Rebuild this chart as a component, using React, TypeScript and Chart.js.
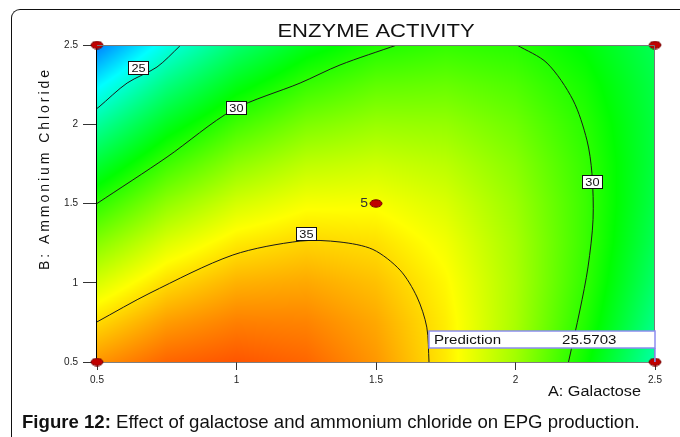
import { useEffect, useRef } from 'react';
import { Chart, registerables } from 'chart.js';

Chart.register(...registerables);

// ---------- text ----------
const chartTitle = 'ENZYME ACTIVITY';
const xAxisTitle = 'A: Galactose';
const yAxisTitle = 'B: Ammonium Chloride';
const captionBold = 'Figure 12:';
const captionRest = ' Effect of galactose and ammonium chloride on EPG production.';

// ---------- ticks ----------
const xTickValues = [0.5, 1, 1.5, 2, 2.5];
const xTickLabels = ['0.5', '1', '1.5', '2', '2.5'];
const yTickValues = [0.5, 1, 1.5, 2, 2.5];
const yTickLabels = ['0.5', '1', '1.5', '2', '2.5'];

const galactoseGrid = [0.5, 0.75, 1, 1.25, 1.5, 1.75, 2, 2.25, 2.5];
const ammoniumGrid = [0.5, 0.75, 1, 1.25, 1.5, 1.75, 2, 2.25, 2.5];
const activityB050 = [36.39, 37.37, 37.69, 37.35, 36.35, 34.68, 32.35, 29.36, 25.71];
const activityB075 = [35.0, 36.25, 36.83, 36.75, 36.01, 34.6, 32.53, 29.8, 26.41];
const activityB100 = [33.47, 34.98, 35.82, 36.01, 35.52, 34.38, 32.57, 30.11, 26.97];
const activityB125 = [31.81, 33.58, 34.68, 35.12, 34.9, 34.02, 32.48, 30.27, 27.4];
const activityB150 = [30.0, 32.03, 33.4, 34.1, 34.14, 33.52, 32.24, 30.29, 27.68];
const activityB175 = [28.05, 30.34, 31.97, 32.94, 33.24, 32.88, 31.86, 30.17, 27.82];
const activityB200 = [25.96, 28.52, 30.4, 31.63, 32.19, 32.1, 31.33, 29.91, 27.82];
const activityB225 = [23.73, 26.55, 28.7, 30.19, 31.01, 31.17, 30.67, 29.51, 27.69];
const activityB250 = [21.37, 24.44, 26.85, 28.6, 29.69, 30.11, 29.87, 28.97, 27.41];
const activityRows = [
  activityB050, activityB075, activityB100, activityB125, activityB150,
  activityB175, activityB200, activityB225, activityB250,
];
const colorScaleMin = 21.4; // blue end
const colorScaleMax = 38.2; // red end
const hueAtMin = 210;
const hueAtMax = 14;

// ---------- contour lines ----------
const contour25Galactose = [0.5, 0.507, 0.608, 0.715, 0.797, 0.8];
const contour25Ammonium = [2.1, 2.109, 2.26, 2.361, 2.494, 2.5];
const contour30aGalactose = [0.5, 0.751, 0.987, 1.228, 1.371, 1.575];
const contour30aAmmonium = [1.5, 1.793, 2.09, 2.26, 2.374, 2.5];
const contour30bGalactose = [2.005, 2.113, 2.206, 2.256, 2.274, 2.278, 2.26, 2.231, 2.19];
const contour30bAmmonium = [2.5, 2.386, 2.153, 1.9, 1.69, 1.4, 1.1, 0.828, 0.5];
const contour35Galactose = [0.5, 0.69, 0.987, 1.228, 1.371, 1.489, 1.586, 1.647, 1.682, 1.69];
const contour35Ammonium = [0.753, 0.935, 1.175, 1.263, 1.257, 1.21, 1.08, 0.91, 0.72, 0.5];

const contourLabelText = ['25', '30', '35', '30'];
const contourLabelGalactose = [0.647, 0.998, 1.249, 2.274];
const contourLabelAmmonium = [2.355, 2.103, 1.308, 1.636];

// ---------- design points ----------
const designGalactose = [0.5, 0.5, 2.5, 2.5, 1.5];
const designAmmonium = [0.5, 2.5, 2.5, 0.5, 1.5];
const centerRunsLabel = '5';

// ---------- prediction ----------
const predictionGalactose = 2.5;
const predictionAmmonium = 0.5;
const predictionLabel = 'Prediction';
const predictionValue = '25.5703';

const FONT = 'Arial, "Liberation Sans", Helvetica, sans-serif';
const STRETCH = 1.16;

function toPoints(xs: number[], ys: number[]) {
  return xs.map((x, i) => ({ x, y: ys[i] }));
}

function locate(grid: number[], v: number) {
  const n = grid.length;
  if (v <= grid[0]) return { i: 0, t: 0 };
  if (v >= grid[n - 1]) return { i: n - 2, t: 1 };
  let i = 0;
  while (i < n - 2 && v > grid[i + 1]) i++;
  return { i, t: (v - grid[i]) / (grid[i + 1] - grid[i]) };
}

function sampleActivity(xv: number, yv: number) {
  const a = locate(galactoseGrid, xv);
  const b = locate(ammoniumGrid, yv);
  const r0 = activityRows[b.i];
  const r1 = activityRows[b.i + 1];
  const v0 = r0[a.i] * (1 - a.t) + r0[a.i + 1] * a.t;
  const v1 = r1[a.i] * (1 - a.t) + r1[a.i + 1] * a.t;
  return v0 * (1 - b.t) + v1 * b.t;
}

function activityColor(v: number): [number, number, number] {
  let f = (v - colorScaleMin) / (colorScaleMax - colorScaleMin);
  f = Math.max(0, Math.min(1, f));
  const h = hueAtMin + f * (hueAtMax - hueAtMin);
  const ch = (n: number) => {
    const k = (n + h / 60) % 6;
    return Math.round(255 * (1 - Math.max(0, Math.min(k, 4 - k, 1))));
  };
  return [ch(5), ch(3), ch(1)];
}

function makeDot() {
  const c = document.createElement('canvas');
  c.width = 14;
  c.height = 9;
  const g = c.getContext('2d')!;
  g.beginPath();
  g.ellipse(7, 4.5, 6, 3.7, 0, 0, Math.PI * 2);
  g.fillStyle = '#c00000';
  g.fill();
  g.lineWidth = 1;
  g.strokeStyle = '#700000';
  g.stroke();
  return c;
}

function stretchText(ctx: CanvasRenderingContext2D, text: string, x: number, y: number, align: CanvasTextAlign) {
  ctx.save();
  ctx.translate(x, y);
  ctx.scale(STRETCH, 1);
  ctx.textAlign = align;
  ctx.fillText(text, 0, 0);
  ctx.restore();
}

const heatmapPlugin = {
  id: 'heatmap',
  beforeDatasetsDraw(chart: any) {
    const { ctx, chartArea: a, scales } = chart;
    const sx = scales.x;
    const sy = scales.y;
    const w = Math.round(a.right - a.left);
    const h = Math.round(a.bottom - a.top);
    const off = document.createElement('canvas');
    off.width = w;
    off.height = h;
    const octx = off.getContext('2d')!;
    const img = octx.createImageData(w, h);
    for (let j = 0; j < h; j++) {
      const yv = sy.getValueForPixel(a.top + j + 0.5);
      for (let i = 0; i < w; i++) {
        const xv = sx.getValueForPixel(a.left + i + 0.5);
        const [r, g, b] = activityColor(sampleActivity(xv, yv));
        const k = (j * w + i) * 4;
        img.data[k] = r;
        img.data[k + 1] = g;
        img.data[k + 2] = b;
        img.data[k + 3] = 255;
      }
    }
    octx.putImageData(img, 0, 0);
    ctx.drawImage(off, a.left, a.top);
  },
};

const decorPlugin = {
  id: 'decor',
  afterDatasetsDraw(chart: any) {
    const { ctx, chartArea: a, scales } = chart;
    const sx = scales.x;
    const sy = scales.y;
    ctx.save();
    // top & right frame
    ctx.strokeStyle = '#777';
    ctx.lineWidth = 1;
    ctx.beginPath();
    ctx.moveTo(a.left, a.top + 0.5);
    ctx.lineTo(a.right - 0.5, a.top + 0.5);
    ctx.lineTo(a.right - 0.5, a.bottom);
    ctx.stroke();

    // contour labels
    ctx.textBaseline = 'middle';
    contourLabelText.forEach((t, i) => {
      const cx = sx.getPixelForValue(contourLabelGalactose[i]);
      const cy = sy.getPixelForValue(contourLabelAmmonium[i]);
      const bw = 20;
      const bh = 13;
      ctx.fillStyle = '#fff';
      ctx.fillRect(cx - bw / 2, cy - bh / 2, bw, bh);
      ctx.strokeStyle = '#111';
      ctx.lineWidth = 1;
      ctx.strokeRect(Math.round(cx - bw / 2) + 0.5, Math.round(cy - bh / 2) + 0.5, bw, bh);
      ctx.fillStyle = '#111';
      ctx.font = `11px ${FONT}`;
      stretchText(ctx, t, cx + 0.5, cy + 1, 'center');
    });

    // centre-point count
    ctx.fillStyle = '#333';
    ctx.font = `12px ${FONT}`;
    stretchText(ctx, centerRunsLabel, sx.getPixelForValue(1.5) - 8, sy.getPixelForValue(1.5), 'right');

    // prediction box
    const px = sx.getPixelForValue(predictionGalactose);
    const py = sy.getPixelForValue(predictionAmmonium);
    const bw = 226;
    const bh = 17;
    const bx = px - bw;
    const by = py - 14 - bh;
    ctx.fillStyle = '#fff';
    ctx.fillRect(bx, by, bw, bh);
    ctx.strokeStyle = '#8c8cf0';
    ctx.lineWidth = 1.5;
    ctx.strokeRect(bx, by, bw, bh);
    ctx.beginPath();
    ctx.moveTo(px, by + bh);
    ctx.lineTo(px, py);
    ctx.stroke();
    ctx.fillStyle = '#111';
    ctx.font = `13px ${FONT}`;
    stretchText(ctx, predictionLabel, bx + 5, by + bh / 2 + 1, 'left');
    stretchText(ctx, predictionValue, bx + 133, by + bh / 2 + 1, 'left');
    ctx.restore();
  },
  afterDraw(chart: any) {
    const { ctx, chartArea: a } = chart;
    ctx.save();
    ctx.fillStyle = '#111';
    ctx.textBaseline = 'middle';
    // title
    ctx.font = `19px ${FONT}`;
    stretchText(ctx, chartTitle, (a.left + a.right) / 2, 32, 'center');
    // x title
    ctx.font = `14px ${FONT}`;
    stretchText(ctx, xAxisTitle, 548, 392, 'left');
    // y title (letter-spaced, rotated)
    ctx.save();
    ctx.translate(45, 170);
    ctx.rotate(-Math.PI / 2);
    ctx.font = `14px ${FONT}`;
    const plain = ctx.measureText(yAxisTitle).width;
    const spacing = Math.max(0, (200 - plain) / (yAxisTitle.length - 1));
    (ctx as any).letterSpacing = `${spacing.toFixed(2)}px`;
    ctx.textAlign = 'center';
    ctx.fillText(yAxisTitle, spacing / 2, 0);
    ctx.restore();
    // caption
    ctx.textBaseline = 'alphabetic';
    ctx.textAlign = 'left';
    ctx.font = `bold 16px ${FONT}`;
    const wb = ctx.measureText(captionBold).width;
    ctx.font = `16px ${FONT}`;
    const wr = ctx.measureText(captionRest).width;
    const size = (16 * 618) / (wb + wr);
    ctx.font = `bold ${size.toFixed(2)}px ${FONT}`;
    ctx.fillText(captionBold, 22, 428);
    const wb2 = ctx.measureText(captionBold).width;
    ctx.font = `${size.toFixed(2)}px ${FONT}`;
    ctx.fillText(captionRest, 22 + wb2, 428);
    ctx.restore();
  },
};

export default function App() {
  const canvasRef = useRef<HTMLCanvasElement | null>(null);

  useEffect(() => {
    if (!canvasRef.current) return;
    const dot = makeDot();
    const lineStyle = {
      type: 'line' as const,
      borderColor: '#1a1a1a',
      borderWidth: 1,
      pointRadius: 0,
      tension: 0.3,
      fill: false,
    };
    const chart = new Chart(canvasRef.current, {
      type: 'scatter',
      data: {
        datasets: [
          {
            label: 'design points',
            data: toPoints(designGalactose, designAmmonium),
            pointStyle: dot as any,
            pointRadius: 6,
            clip: false as any,
            showLine: false,
          },
          { ...lineStyle, label: '25', data: toPoints(contour25Galactose, contour25Ammonium) },
          { ...lineStyle, label: '30a', data: toPoints(contour30aGalactose, contour30aAmmonium) },
          { ...lineStyle, label: '30b', data: toPoints(contour30bGalactose, contour30bAmmonium) },
          { ...lineStyle, label: '35', data: toPoints(contour35Galactose, contour35Ammonium) },
        ] as any,
      },
      options: {
        animation: false,
        responsive: false,
        events: [],
        layout: { padding: { top: 45, right: 25, left: 0, bottom: 0 } },
        plugins: { legend: { display: false }, tooltip: { enabled: false }, title: { display: false } },
        scales: {
          x: {
            type: 'linear',
            min: 0.5,
            max: 2.5,
            afterFit: (s: any) => { s.height = 75; },
            afterBuildTicks: (s: any) => { s.ticks = xTickValues.map((v) => ({ value: v })); },
            ticks: {
              callback: (v: any) => xTickLabels[xTickValues.indexOf(Number(v))] ?? '',
              font: { size: 10, family: FONT },
              color: '#222',
              padding: 4,
              maxRotation: 0,
            },
            grid: { drawOnChartArea: false, drawTicks: true, tickLength: 8, color: '#333' },
            border: { display: true, color: '#000', width: 1.5 },
          },
          y: {
            type: 'linear',
            min: 0.5,
            max: 2.5,
            afterFit: (s: any) => { s.width = 97; },
            afterBuildTicks: (s: any) => { s.ticks = yTickValues.map((v) => ({ value: v })); },
            ticks: {
              callback: (v: any) => yTickLabels[yTickValues.indexOf(Number(v))] ?? '',
              font: { size: 10, family: FONT },
              color: '#222',
              padding: 5,
            },
            grid: { drawOnChartArea: false, drawTicks: true, tickLength: 14, color: '#333' },
            border: { display: true, color: '#000', width: 1.5 },
          },
        },
      } as any,
      plugins: [heatmapPlugin, decorPlugin],
    });
    return () => chart.destroy();
  }, []);

  return (
    <div style={{ position: 'absolute', left: 0, top: 0, width: 680, height: 437, background: '#fff', overflow: 'hidden' }}>
      <div
        style={{
          position: 'absolute',
          left: 11,
          top: 9,
          width: 700,
          height: 460,
          borderTop: '1.5px solid #111',
          borderLeft: '1.5px solid #111',
          borderTopLeftRadius: 9,
          boxSizing: 'border-box',
        }}
      />
      <canvas ref={canvasRef} width={680} height={437} style={{ position: 'absolute', left: 0, top: 0 }} />
    </div>
  );
}
